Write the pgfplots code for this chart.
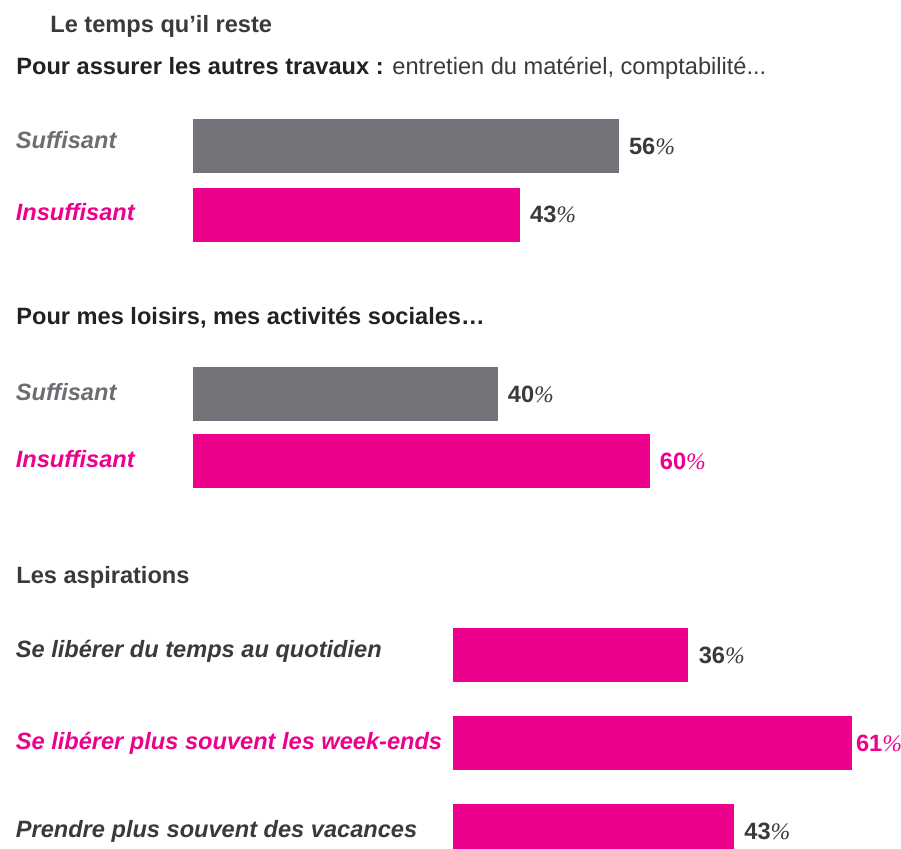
\documentclass[border=0pt]{standalone}
\usepackage{fontspec}
\setmainfont{Liberation Sans}
\newfontfamily\pctfont{Liberation Serif}
\usepackage{pgfplots}
\pgfplotsset{compat=1.18}
\definecolor{barGray}{HTML}{737479}
\definecolor{mag}{HTML}{EC008C}
\definecolor{txt}{HTML}{3A3A3A}
\definecolor{hdr}{HTML}{222222}
\definecolor{lblGray}{HTML}{6D6E72}
\newcommand{\pc}{{\mdseries\pctfont\itshape\%}}
\newcommand{\fs}{\fontsize{11.8pt}{14pt}\selectfont}
\pgfplotsset{
 sect/.style={
  anchor=south west, xbar, bar shift=0pt, bar width=27pt,
  xmin=0, xmax=70, ymin=-0.5, clip=false,
  axis line style={draw=none}, tick style={draw=none}, xtick=\empty,
  yticklabel style={font=\fs\bfseries\itshape, anchor=base west, inner sep=0pt, yshift=-3pt},
  point meta=x,
  nodes near coords={\bfseries\pgfmathprintnumber[assume math mode=true]{\pgfplotspointmeta}\pc},
  every node near coord/.append style={font=\fs, text=txt, inner sep=0pt, xshift=5pt},
 }
}
\begin{document}
\begin{tikzpicture}
\node[anchor=base west, inner sep=0pt, font=\fs\bfseries, text=txt] at (25pt,-16.35pt) {Le temps qu’il reste};
\node[anchor=base west, inner sep=0pt, font=\fs, text=hdr] at (8pt,-37pt) {\textbf{Pour assurer les autres travaux :} {\color{txt}entretien du matériel, comptabilité...}};
\node[anchor=base west, inner sep=0pt, font=\fs\bfseries, text=hdr] at (8pt,-162pt) {Pour mes loisirs, mes activités sociales…};
\node[anchor=base west, inner sep=0pt, font=\fs\bfseries, text=txt] at (8pt,-291.5pt) {Les aspirations};

% Section 1
\begin{axis}[sect, at={(96.5pt,-124.6pt)}, x=3.8pt, y=34.4pt, ymax=1.5,
  ytick={0,1}, yticklabels={\textcolor{mag}{Insuffisant},\raisebox{2pt}{\textcolor{lblGray}{Suffisant}}},
  yticklabel style={xshift=-84.5pt}]
\addplot[fill=barGray, draw=none] coordinates {(56,1)};
\addplot[fill=mag, draw=none] coordinates {(43,0)};
\end{axis}

% Section 2
\begin{axis}[sect, at={(96.75pt,-247.35pt)}, x=3.8pt, y=33.5pt, ymax=1.5,
  ytick={0,1}, yticklabels={\textcolor{mag}{Insuffisant},\textcolor{lblGray}{Suffisant}},
  yticklabel style={xshift=-84.75pt}]
\addplot[fill=barGray, draw=none] coordinates {(40,1)};
\addplot[fill=mag, draw=none, every node near coord/.append style={text=mag}] coordinates {(60,0)};
\end{axis}

% Section 3
\begin{axis}[sect, at={(226.65pt,-437.5pt)}, x=3.265pt, y=44pt, ymax=2.5,
  ytick={0,1,2}, yticklabels={\textcolor{txt}{Prendre plus souvent des vacances},\textcolor{mag}{Se libérer plus souvent les week-ends},\raisebox{2pt}{\textcolor{txt}{Se libérer du temps au quotidien}}},
  yticklabel style={xshift=-214.65pt}]
\addplot[fill=mag, draw=none] coordinates {(36,2)};
\addplot[fill=mag, draw=none, every node near coord/.append style={text=mag, xshift=-3pt}] coordinates {(61,1)};
\addplot[fill=mag, draw=none] coordinates {(43,0)};
\end{axis}
\pgfresetboundingbox
\path[use as bounding box] (0,0) rectangle (450.5pt,-424pt);
\end{tikzpicture}
\end{document}
